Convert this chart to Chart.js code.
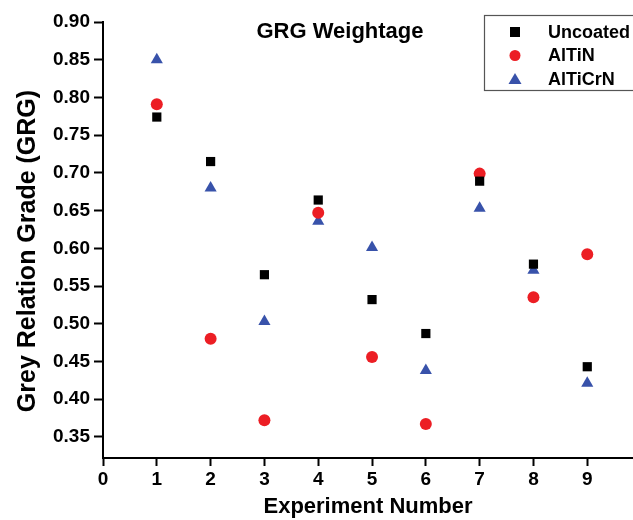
<!DOCTYPE html>
<html>
<head>
<meta charset="utf-8">
<script src="https://cdn.jsdelivr.net/npm/chart.js@4"></script>
<style>
  html, body { margin: 0; padding: 0; background: #fff; }
  #wrap { width: 633px; height: 520px; }
</style>
</head>
<body>
<div id="wrap"><canvas id="grgChart"></canvas></div>
<script>
"use strict";

var experiments = [1, 2, 3, 4, 5, 6, 7, 8, 9];
var uncoated = [0.774, 0.715, 0.565, 0.664, 0.532, 0.487, 0.689, 0.579, 0.443];
var altin = [0.791, 0.480, 0.372, 0.647, 0.456, 0.367, 0.699, 0.535, 0.592];
var alticrn = [0.850, 0.680, 0.503, 0.636, 0.601, 0.438, 0.653, 0.571, 0.421];
var xTicks = [0, 1, 2, 3, 4, 5, 6, 7, 8, 9];
var yTicks = [0.35, 0.40, 0.45, 0.50, 0.55, 0.60, 0.65, 0.70, 0.75, 0.80, 0.85, 0.90];

function toPoints(vals) {
    return experiments.map(function (x, i) { return { x: x, y: vals[i] }; });
}

var FONT = "'Liberation Sans', Arial, sans-serif";

// title, y-axis title and boxed legend drawn like the original figure
var overlay = {
    id: 'overlay',
    afterDraw: function (chart) {
        var c = chart.ctx;
        c.save();
        c.fillStyle = '#000';
        c.font = 'bold 22px ' + FONT;
        c.textAlign = 'center';
        c.textBaseline = 'middle';
        c.fillText('GRG Weightage', 340, 32);

        // y axis title (sits a little below the plot centre in the original)
        c.save();
        c.translate(28, 251);
        c.rotate(-Math.PI / 2);
        c.font = 'bold 25px ' + FONT;
        c.fillText('Grey Relation Grade (GRG)', 0, 0);
        c.restore();

        c.strokeStyle = '#555';
        c.lineWidth = 1.2;
        c.fillStyle = '#fff';
        c.fillRect(484, 15, 160, 76);
        c.strokeRect(484.5, 15.5, 160, 75);

        c.font = 'bold 18px ' + FONT;
        c.textAlign = 'left';
        chart.data.datasets.forEach(function (ds, i) {
            var y = 32 + i * 23.5;
            var x = 515;
            c.fillStyle = ds.backgroundColor;
            c.beginPath();
            if (ds.pointStyle === 'rect') {
                c.rect(x - 5, y - 5, 10, 10);
            } else if (ds.pointStyle === 'circle') {
                c.arc(x, y, 5.5, 0, Math.PI * 2);
            } else {
                c.moveTo(x, y - 6);
                c.lineTo(x + 6.5, y + 5);
                c.lineTo(x - 6.5, y + 5);
                c.closePath();
            }
            c.fill();
            c.fillStyle = '#000';
            c.fillText(ds.label, 548, y + 1);
        });
        c.restore();
    }
};

var ctx = document.getElementById('grgChart').getContext('2d');
var myChart = new Chart(ctx, {
    type: 'scatter',
    data: {
        datasets: [{
            label: 'Uncoated',
            data: toPoints(uncoated),
            pointStyle: 'rect',
            pointRadius: 6.5,
            backgroundColor: '#000000',
            borderColor: '#000000',
            borderWidth: 0
        },
        {
            label: 'AlTiN',
            data: toPoints(altin),
            pointStyle: 'circle',
            pointRadius: 6,
            backgroundColor: 'rgb(236, 30, 36)',
            borderColor: 'rgb(236, 30, 36)',
            borderWidth: 0
        },
        {
            label: 'AlTiCrN',
            data: toPoints(alticrn),
            pointStyle: 'triangle',
            pointRadius: 7,
            backgroundColor: 'rgb(56, 82, 170)',
            borderColor: 'rgb(56, 82, 170)',
            borderWidth: 0
        }]
    },
    options: {
        responsive: true,
        maintainAspectRatio: false,
        animation: false,
        layout: { autoPadding: false, padding: { top: 22, left: 0, right: 0, bottom: 0 } },
        plugins: {
            legend: { display: false },
            tooltip: { enabled: false }
        },
        scales: {
            x: {
                type: 'linear',
                min: 0,
                max: 9.85,
                afterBuildTicks: function (scale) {
                    scale.ticks = xTicks.map(function (v) { return { value: v }; });
                },
                afterFit: function (scale) {
                    scale.height = 62;
                    scale.paddingLeft = 0;
                    scale.paddingRight = 0;
                },
                grid: { drawOnChartArea: false, drawTicks: true, tickLength: 8, tickWidth: 2, tickColor: '#000' },
                border: { display: true, color: '#000', width: 2 },
                ticks: {
                    color: '#000',
                    padding: 2,
                    font: { family: FONT, size: 19, weight: 'bold' },
                    callback: function (v) { return v; }
                },
                title: {
                    display: true,
                    text: 'Experiment Number',
                    color: '#000',
                    padding: { top: 0, bottom: 0 },
                    font: { family: FONT, size: 22, weight: 'bold' }
                }
            },
            y: {
                min: 0.322,
                max: 0.90,
                afterBuildTicks: function (scale) {
                    scale.ticks = yTicks.map(function (v) { return { value: v }; });
                },
                afterFit: function (scale) {
                    scale.width = 103;
                    scale.paddingTop = 0;
                    scale.paddingBottom = 0;
                },
                grid: { drawOnChartArea: false, drawTicks: true, tickLength: 9, tickWidth: 2, tickColor: '#000' },
                border: { display: true, color: '#000', width: 2 },
                ticks: {
                    color: '#000',
                    padding: 4,
                    font: { family: FONT, size: 19, weight: 'bold' },
                    callback: function (v) { return v.toFixed(2); }
                },
                title: { display: false }
            }
        }
    },
    plugins: [overlay]
});
</script>
</body>
</html>
